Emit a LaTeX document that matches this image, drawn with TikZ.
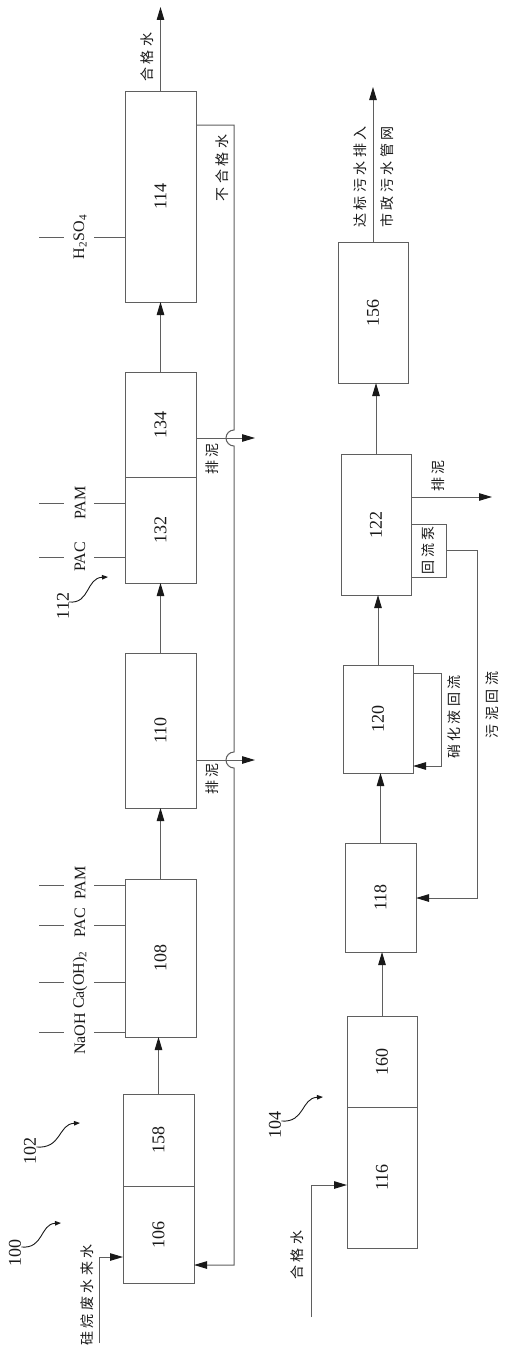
\documentclass[tikz,border=0pt]{standalone}
\usepackage{fontspec}
\setmainfont{Liberation Serif}
\newfontfamily\cjkf[LetterSpace=24]{Noto Sans CJK SC}
\usetikzlibrary{arrows.meta,calc}
\definecolor{lc}{RGB}{95,95,95}
\definecolor{tc}{RGB}{25,25,25}
\tikzset{
  ln/.style={draw=lc, line width=1pt},
  arr/.style={ln, -{Triangle[length=13pt,width=7.5pt,color=tc]}},
  cur/.style={draw=tc, line width=0.9pt, -{Triangle[length=6pt,width=4.5pt]}},
  pbox/.style={draw=lc, line width=1pt, inner sep=0pt, outer sep=0pt, text=tc, font=\fontsize{18}{20}\selectfont},
  lbl/.style={rotate=90, inner sep=0pt, text=tc, font=\fontsize{16}{18}\selectfont},
  num/.style={rotate=90, inner sep=0pt, text=tc, font=\fontsize{18}{20}\selectfont},
  cjk/.style={rotate=90, inner sep=0pt, text=tc, font=\fontsize{14}{16}\cjkf},
}
\begin{document}
\begin{tikzpicture}[x=1pt,y=-1pt]
\useasboundingbox[fill=white] (0,0) rectangle (506,1354);

% ---------- upper (left) line ----------
\node[pbox, minimum width=71pt, minimum height=211pt] (b114) at (160.5,196.5) {\rotatebox{90}{114}};
\node[pbox, minimum width=71pt, minimum height=105pt] (b134) at (160.5,424.5) {\rotatebox{90}{134}};
\node[pbox, minimum width=71pt, minimum height=106pt] (b132) at (160.5,530) {\rotatebox{90}{132}};
\node[pbox, minimum width=71pt, minimum height=155pt] (b110) at (160.5,730.5) {\rotatebox{90}{110}};
\node[pbox, minimum width=71pt, minimum height=158pt] (b108) at (160.5,958) {\rotatebox{90}{108}};
\node[pbox, minimum width=71pt, minimum height=92pt] (b158) at (158.5,1140) {\rotatebox{90}{158}};
\node[pbox, minimum width=71pt, minimum height=97pt] (b106) at (158.5,1234.5) {\rotatebox{90}{106}};

\draw[arr] (b134.north) -- (b134.north |- b114.south);
\draw[arr] (b110.north) -- (b110.north |- b132.south);
\draw[arr] (b108.north) -- (b108.north |- b110.south);
\draw[arr] (b158.north) -- (b158.north |- b108.south);

% output of 114
\coordinate (o114) at (160.5,7);
\draw[arr] (b114.north) -- (o114);
\node[cjk] at (147,57) {合格水};

% rejected water loop
\coordinate (u1) at (234,125);
\coordinate (e1) at (234,1265);
\draw[arr] ([yshift=-34pt]b114.north east) -- (u1) -- (234,430)
  .. controls (229.6,430) and (226,433.6) .. (226,438)
  .. controls (226,442.4) and (229.6,446) .. (234,446)
  -- (234,752)
  .. controls (229.6,752) and (226,755.6) .. (226,760)
  .. controls (226,764.4) and (229.6,768) .. (234,768)
  -- (e1) -- (b106.east |- e1);
\node[cjk] at (222,168) {不合格水};

% sludge outlets
\coordinate (s1) at (255,438);
\coordinate (s2) at (255,760);
\draw[arr] (b134.east |- s1) -- (s1);
\draw[arr] (b110.east |- s2) -- (s2);
\node[cjk] at (212,459) {排泥};
\node[cjk] at (212,779) {排泥};

% chemical dosing
\node[lbl] (h2so4) at (80,237) {H\textsubscript{2}SO\textsubscript{4}};
\draw[ln] (39,237) -- (64,237);
\draw[ln] (94,237) -- (b114.west |- h2so4);

\node[lbl] (pam1) at (80,503) {PAM};
\draw[ln] (39,503) -- (64,503);
\draw[ln] (94,503) -- (b132.west |- pam1);
\node[lbl] (pac1) at (80,557) {PAC};
\draw[ln] (39,557) -- (64,557);
\draw[ln] (94,557) -- (b132.west |- pac1);

\node[lbl] (pam2) at (80,883) {PAM};
\draw[ln] (39,885) -- (64,885);
\draw[ln] (94,885) -- (b108.west |- 0,885);
\node[lbl] (pac2) at (80,923) {PAC};
\draw[ln] (39,925) -- (64,925);
\draw[ln] (94,925) -- (b108.west |- 0,925);
\node[lbl] (caoh) at (80,980) {Ca(OH)\textsubscript{2}};
\draw[ln] (39,982) -- (64,982);
\draw[ln] (94,982) -- (b108.west |- 0,982);
\node[lbl] (naoh) at (80,1034) {NaOH};
\draw[ln] (39,1032) -- (64,1032);
\draw[ln] (94,1032) -- (b108.west |- 0,1032);

% inlet
\coordinate (i3) at (99,1343);
\coordinate (i4) at (99,1257);
\draw[arr] (i3) -- (i4) -- (b106.west |- i4);
\node[cjk] at (87,1295) {硅烷废水来水};

% reference numerals
\node[num] (l100) at (15,1253) {100};
\coordinate (t100) at (61,1223);
\draw[cur] ([yshift=6pt]l100.south) .. controls (44,1249) and (40,1224) .. (t100);
\node[num] (l102) at (30,1151) {102};
\coordinate (t102) at (80,1123);
\draw[cur] ([yshift=4pt]l102.south) .. controls (62,1149) and (58,1124) .. (t102);
\node[num] (l112) at (63,606) {112};
\coordinate (t112) at (108,577);
\draw[cur] ([yshift=4pt]l112.south) .. controls (90,604) and (86,578) .. (t112);

% ---------- lower (right) line ----------
\node[pbox, minimum width=70pt, minimum height=141pt] (b156) at (373,312.5) {\rotatebox{90}{156}};
\node[pbox, minimum width=70pt, minimum height=141pt] (b122) at (376,524.5) {\rotatebox{90}{122}};
\node[pbox, minimum width=35pt, minimum height=53pt, font=\fontsize{14}{16}\cjkf] (pump) at (428.5,550.5) {\rotatebox{90}{回流泵}};
\node[pbox, minimum width=70pt, minimum height=108pt] (b120) at (378,719) {\rotatebox{90}{120}};
\node[pbox, minimum width=71pt, minimum height=109pt] (b118) at (380.5,897.5) {\rotatebox{90}{118}};
\node[pbox, minimum width=70pt, minimum height=91pt] (b160) at (382,1061.5) {\rotatebox{90}{160}};
\node[pbox, minimum width=70pt, minimum height=141pt] (b116) at (382,1177.5) {\rotatebox{90}{116}};

\draw[arr] (b122.north) -- (b122.north |- b156.south);
\draw[arr] (b120.north) -- (b120.north |- b122.south);
\draw[arr] (b118.north) -- (b118.north |- b120.south);
\draw[arr] (b160.north) -- (b160.north |- b118.south);

% final discharge
\coordinate (o156) at (373,87);
\draw[arr] (b156.north) -- (o156);
\node[cjk] at (360,177) {达标污水排入};
\node[cjk] at (387,177) {市政污水管网};

% sludge from 122
\coordinate (s3) at (492,497);
\draw[arr] (b122.east |- s3) -- (s3);
\node[cjk] at (438,476) {排泥};

% sludge return
\coordinate (p1) at (477,550.5);
\coordinate (p2) at (477,898);
\draw[arr] (pump.east) -- (p1) -- (p2) -- (b118.east |- p2);
\node[cjk] at (492,705) {污泥回流};

% nitrified liquid return
\coordinate (n1) at (441,673);
\coordinate (n2) at (441,766);
\draw[arr] (b120.east |- n1) -- (n1) -- (n2) -- (b120.east |- n2);
\node[cjk] at (454,717) {硝化液回流};

% inlet of qualified water
\coordinate (i1) at (311,1317);
\coordinate (i2) at (311,1185);
\draw[arr] (i1) -- (i2) -- (b116.west |- i2);
\node[cjk] at (297,1255) {合格水};

\node[num] (l104) at (275,1125) {104};
\coordinate (t104) at (323,1097);
\draw[cur] ([yshift=4pt]l104.south) .. controls (305,1123) and (301,1098) .. (t104);
\end{tikzpicture}
\end{document}
